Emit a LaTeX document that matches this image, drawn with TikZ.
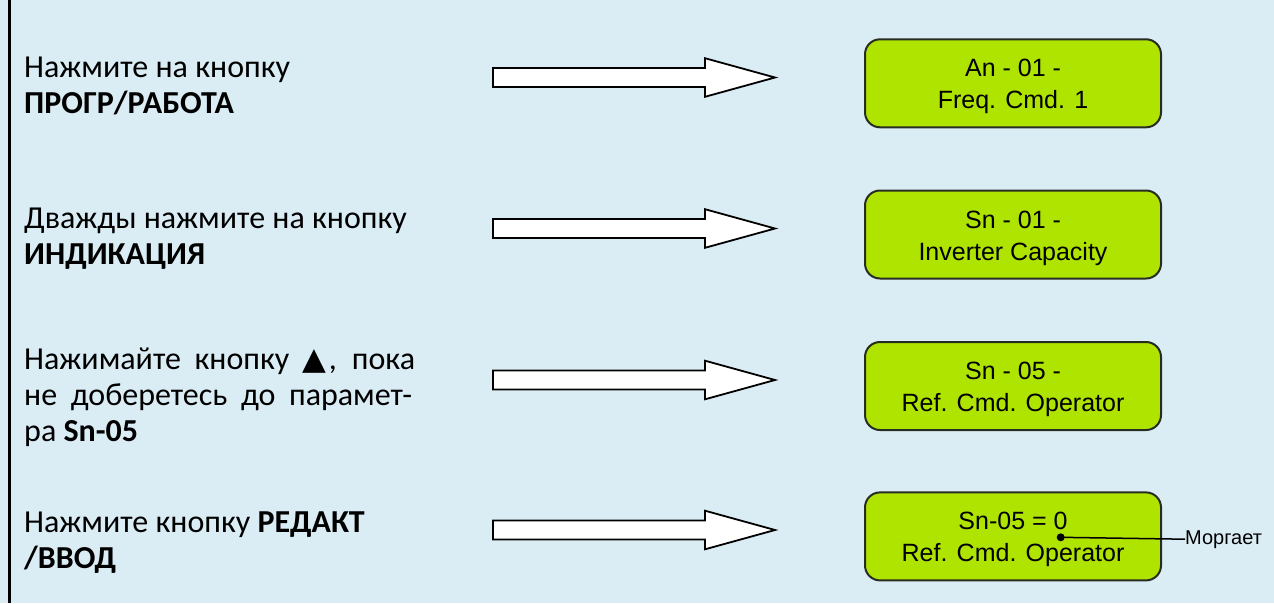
\documentclass[tikz,border=0pt]{standalone}
\usepackage{fontspec}
\usetikzlibrary{calc}
\setmainfont{Carlito}
\newfontfamily\lcdfont{Liberation Sans}
\newfontfamily\symfont{DejaVu Sans}
\definecolor{panelbg}{RGB}{219,237,244}
\definecolor{lcdgreen}{RGB}{175,228,0}
\definecolor{lcdedge}{RGB}{40,45,35}
\begin{document}
\begin{tikzpicture}[x=1pt,y=-1pt,
  steptext/.style={anchor=base west,inner sep=0pt,font=\fontsize{32}{36}\selectfont},
  lcdbox/.style={draw=lcdedge,line width=2pt,fill=lcdgreen,rounded corners=15pt,
    minimum width=296pt,minimum height=88pt,inner sep=0pt},
  lcdline/.style={anchor=base,inner sep=0pt,font=\lcdfont\fontsize{25}{30}\selectfont},
  blockarrow/.pic={\draw[line width=1.8pt,fill=white,line join=miter]
    (0,-9.5) -- (212,-9.5) -- (212,-19.3) -- (282,0) -- (212,19.3) -- (212,9.5) -- (0,9.5) -- cycle;},
  note/.style={anchor=base west,inner sep=0pt,font=\lcdfont\fontsize{20}{24}\selectfont}]
% panel
\fill[panelbg] (0,0) rectangle (1274,603);
\useasboundingbox (0,0) rectangle (1274,603);
\draw[line width=3pt] (9,0) -- (9,603);

% step 1
\node[steptext] (t1a) at (24,77) {Нажмите на кнопку};
\node[steptext] (t1b) at (24,113) {\textbf{ПРОГР/РАБОТА}};
\pic at (493,77.5) {blockarrow};
\node[lcdbox] (d1) at (1013,83.3) {};
\node[lcdline] (d1a) at ($(d1.center)+(0,-6.5)$) {An - 01 -};
\node[lcdline] (d1b) at ($(d1.center)+(0,25.5)$) {Freq. Cmd. 1};

% step 2
\node[steptext] (t2a) at (24,228) {Дважды нажмите на кнопку};
\node[steptext] (t2b) at (24,264) {\textbf{ИНДИКАЦИЯ}};
\pic at (493,228.5) {blockarrow};
\node[lcdbox] (d2) at (1013,234.5) {};
\node[lcdline] (d2a) at ($(d2.center)+(0,-6.5)$) {Sn - 01 -};
\node[lcdline] (d2b) at ($(d2.center)+(0,25.5)$) {Inverter Capacity};

% step 3 (first two lines justified)
\node[steptext] (t3a) at (24,369) {\makebox[391pt][s]{Нажимайте кнопку {\symfont\fontsize{31}{36}\selectfont ▲}\kern2pt, пока}};
\node[steptext] (t3b) at (24,405) {\makebox[388pt][s]{не доберетесь до парамет-}};
\node[steptext] (t3c) at (24,441) {ра \textbf{Sn-05}};
\pic at (493,380) {blockarrow};
\node[lcdbox] (d3) at (1013,386) {};
\node[lcdline] (d3a) at ($(d3.center)+(0,-6.5)$) {Sn - 05 -};
\node[lcdline] (d3b) at ($(d3.center)+(0,25.5)$) {Ref. Cmd. Operator};

% step 4
\node[steptext] (t4a) at (24,532) {Нажмите кнопку \textbf{РЕДАКТ}};
\node[steptext] (t4b) at (24,568) {\textbf{/ВВОД}};
\pic at (493,530) {blockarrow};
\node[lcdbox] (d4) at (1013,536.4) {};
\node[lcdline] (d4a) at ($(d4.center)+(0,-6.5)$) {Sn-05 = 0};
\node[lcdline] (d4b) at ($(d4.center)+(0,25.5)$) {Ref. Cmd. Operator};

% blinking digit marker
\coordinate (blink) at (1060.7,537.3);
\node[note] (lbl) at (1185,544) {Моргает};
\fill (blink) circle (4pt);
\draw[line width=1.5pt] (blink) -- (lbl.west);
\end{tikzpicture}
\end{document}
